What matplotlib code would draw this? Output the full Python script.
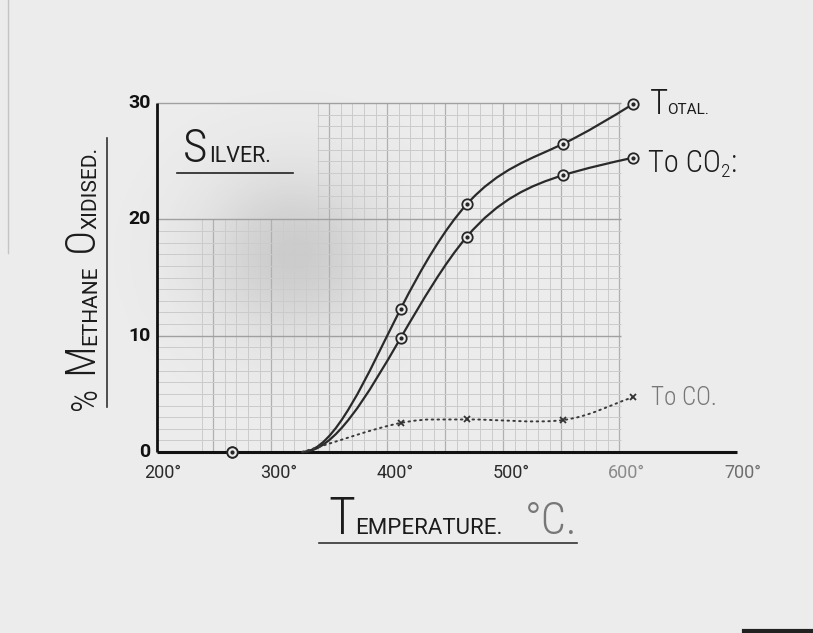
import numpy as np
import matplotlib
matplotlib.use("Agg")
import matplotlib.pyplot as plt
from matplotlib import font_manager
from matplotlib.path import Path
from matplotlib.patches import PathPatch
from matplotlib.lines import Line2D
from matplotlib.transforms import IdentityTransform

# readings, methane over silver
temps = [265, 325, 410, 467, 550, 610]
total = [0, 0, 12.3, 21.3, 26.5, 29.9]
to_co2 = [0, 0, 9.8, 18.5, 23.8, 25.3]
to_co = [0, 0, 2.5, 2.8, 2.75, 4.7]
xticks = [200, 300, 400, 500, 600, 700]
yticks = [0, 10, 20, 30]

ink = '#1c1c1c'
paper = '#ececec'

names = {f.name for f in font_manager.fontManager.ttflist}
thin = 'Roboto Condensed' if 'Roboto Condensed' in names else 'Roboto'


def big(size, color=ink):
    return dict(fontsize=size, color=color, family=[thin, 'DejaVu Sans'], weight='light')


def small(size, color=ink):
    return dict(fontsize=size, color=color, family=['Roboto', 'DejaVu Sans'])


def letter(ax, x, y, parts, rotation=0, gap=1.5):
    # hand-lettered small caps: pieces of different size on one baseline
    r = ax.figure.canvas.get_renderer()
    pos = ax.transData.transform((x, y))
    step = np.array([np.cos(np.radians(rotation)), np.sin(np.radians(rotation))])
    normal = np.array([-step[1], step[0]])
    for s, kw in parts:
        kw = dict(kw)
        dy = kw.pop('dy', 0)
        p = pos + normal * dy
        t = ax.text(p[0], p[1], s, transform=IdentityTransform(), rotation=rotation,
                    rotation_mode='anchor', ha='left', va='baseline', zorder=6, **kw)
        ext = t.get_window_extent(r)
        pos = pos + step * ((ext.width if rotation == 0 else ext.height) + gap)


def spline_path(xs, ys):
    # cubic spline leaving the axis flat, drawn as bezier segments
    x = np.asarray(xs, float)
    y = np.asarray(ys, float)
    n = len(x)
    h = np.diff(x)
    s = np.diff(y) / h
    A = np.zeros((n, n))
    b = np.zeros(n)
    A[0, 0] = 1
    for i in range(1, n - 1):
        A[i, i - 1] = h[i]
        A[i, i] = 2 * (h[i - 1] + h[i])
        A[i, i + 1] = h[i - 1]
        b[i] = 3 * (h[i] * s[i - 1] + h[i - 1] * s[i])
    A[-1, -2], A[-1, -1], b[-1] = 1, 2, 3 * s[-1]
    d = np.linalg.solve(A, b)
    verts = [(x[0], y[0])]
    for i in range(n - 1):
        verts += [(x[i] + h[i] / 3, y[i] + d[i] * h[i] / 3),
                  (x[i + 1] - h[i] / 3, y[i + 1] - d[i + 1] * h[i] / 3),
                  (x[i + 1], y[i + 1])]
    codes = [Path.MOVETO] + [Path.CURVE4] * (len(verts) - 1)
    return Path(verts, codes)


def catmull_path(xs, ys):
    p = np.column_stack([xs, ys]).astype(float)
    m = np.zeros_like(p)
    m[1:-1] = (p[2:] - p[:-2]) / 2
    m[0] = p[1] - p[0]
    m[-1] = p[-1] - p[-2]
    verts = [p[0]]
    for i in range(len(p) - 1):
        verts += [p[i] + m[i] / 3, p[i + 1] - m[i + 1] / 3, p[i + 1]]
    codes = [Path.MOVETO] + [Path.CURVE4] * (len(verts) - 1)
    return Path(verts, codes)


fig = plt.figure(figsize=(8.13, 6.33), dpi=100)
fig.patch.set_facecolor(paper)
ax = fig.add_axes([0, 0, 1, 1])
ax.set_facecolor(paper)

# smudge on the paper
gx = np.linspace(150, 520, 200)
gy = np.linspace(-8, 38, 200)
X, Y = np.meshgrid(gx, gy)
haze = np.zeros(X.shape + (4,))
haze[..., :3] = 0.35
haze[..., 3] = 0.22 * np.exp(-(((X - 318) / 55) ** 2 + ((Y - 17) / 5.0) ** 2) / 2)
ax.imshow(haze, extent=(150, 520, -8, 38), origin='lower', aspect='auto',
          interpolation='bilinear', zorder=0.5)

# graph paper ruling
vl = np.arange(238.5, 600, 10)
tops = np.where(vl > 338, 30, 20)
heavy = (np.arange(len(vl)) % 5) == 1
ax.vlines(vl[~heavy], 0, tops[~heavy], colors='#cbcbcb', lw=0.7, zorder=1)
ax.vlines(vl[heavy], 0, tops[heavy], colors='#b0b0b0', lw=0.9, zorder=1)
hl = np.arange(1, 30)
hl = hl[hl % 10 != 0]
ax.hlines(hl, np.where(hl > 20, 338, 200), 600, colors='#cbcbcb', lw=0.7, zorder=1)
ax.hlines([10, 20, 30], 200, 600, colors='#a0a0a0', lw=1.0, zorder=1)

# axes
ax.plot([200, 200], [0, 30], color='#111111', lw=2.0, zorder=3, solid_capstyle='butt')
ax.plot([200, 700], [0, 0], color='#111111', lw=2.2, zorder=3, solid_capstyle='butt')

t = np.array(temps)
tot = np.array(total)
co2 = np.array(to_co2)
co = np.array(to_co)

ax.add_patch(PathPatch(spline_path(t[1:], tot[1:]), fill=False, ec='#2a2a2a', lw=1.6, zorder=4))
ax.add_patch(PathPatch(spline_path(t[1:], co2[1:]), fill=False, ec='#2a2a2a', lw=1.6, zorder=4))
ax.add_patch(PathPatch(catmull_path(t[1:], co[1:]), fill=False, ec='#3a3a3a',
                       lw=1.4, ls=(0, (0.8, 2.2)), capstyle='round', zorder=4))

mk = [0, 2, 3, 4, 5]
for series in (tot, co2):
    ax.plot(t[mk], series[mk], 'o', ms=7.5, mfc=paper, mec='#262626', mew=1.3, zorder=5)
    ax.plot(t[mk], series[mk], 'o', ms=2.0, color='#262626', zorder=5)
ax.plot(t[2:], co[2:], 'x', ms=5, mew=1.3, color='#333333', zorder=5)

# tick numbers
tick_colors = ['#2a2a2a', '#2a2a2a', '#2a2a2a', '#2a2a2a', '#8a8a8a', '#6e6e6e']
for x, c in zip(xticks, tick_colors):
    ax.text(x + 5, -1.8, f'{x}°', ha='center', va='center', fontsize=13, color=c,
            family=['Roboto', 'DejaVu Sans'], zorder=6)
for v in yticks:
    ax.text(194.5, v, str(v), ha='right', va='center', fontsize=14, color='#111111',
            family=['Roboto', 'DejaVu Sans'], weight='bold', zorder=6)

ax.set_xlim(64.7, 765.5)
ax.set_ylim(-15.56, 38.87)
ax.axis('off')

# lettering
letter(ax, 222.4, 24.9, [('S', big(34)), ('ILVER.', small(15.5))], gap=2)
ax.plot([217, 317], [24.0, 24.0], color='#222222', lw=1.2, zorder=6)

letter(ax, 147.4, 3.6, [('%', big(26)), (' M', big(30)), ('ETHANE', small(15)),
                        (' O', big(30)), ('XIDISED.', small(15))], rotation=90, gap=1)
ax.plot([157, 157], [3.9, 27.0], color='#333333', lw=1.2, zorder=6)

letter(ax, 347.4, -7.05, [('T', big(37)), ('EMPERATURE.', small(16))], gap=0)
letter(ax, 517, -7.05, [('°C.', big(32, '#777777'))])
ax.plot([340, 562], [-7.82, -7.82], color='#333333', lw=1.2, zorder=6)

letter(ax, 625, 29.06, [('T', big(25)), ('OTAL.', small(11))], gap=-1)
letter(ax, 623.3, 24.1, [('To CO', big(22)), ('2', dict(big(14), dy=-5)), (':', big(22))], gap=0.5)
letter(ax, 625.9, 4.04, [('To CO.', big(18, '#777777'))])

# page edges
fig.add_artist(Line2D([0.01, 0.01], [0.6, 1.0], transform=fig.transFigure, color='#c4c4c4', lw=1))
fig.add_artist(Line2D([0.915, 1.0], [0.003, 0.003], transform=fig.transFigure, color='#222222', lw=3))

fig.savefig('out.png', dpi=100, facecolor=fig.get_facecolor())
